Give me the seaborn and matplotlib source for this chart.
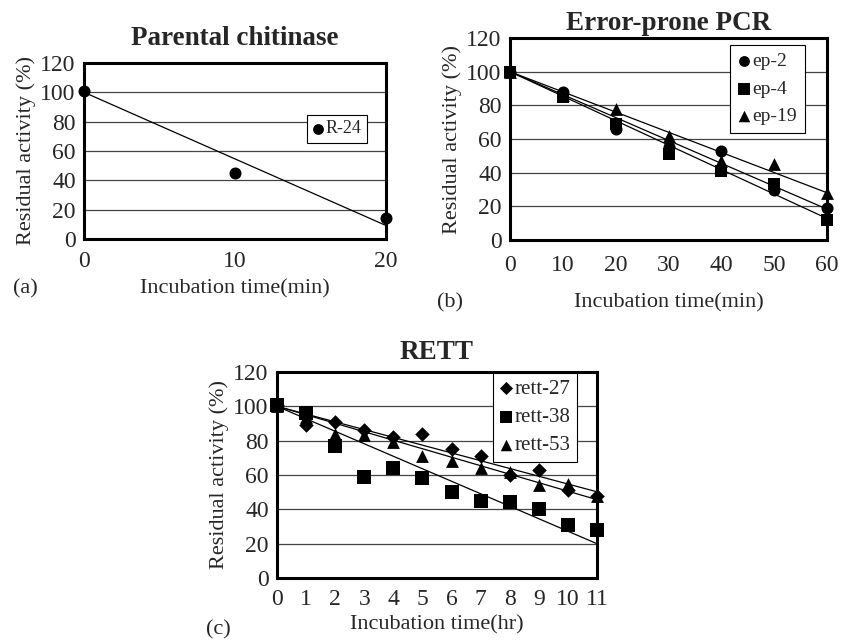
import numpy as np
import pandas as pd
import matplotlib
matplotlib.use("Agg")
import matplotlib.pyplot as plt
import seaborn as sns

# (a) parental chitinase
time_a = [0, 10, 20]
r24 = [101, 45, 14]

# (b) error-prone PCR
time_b = [0, 10, 20, 30, 40, 50, 60]
ep2 = [100, 88, 66, 55, 53, 30, 19]
ep4 = [100, 85, 69, 51, 41, 33, 12]
ep19 = [100, 86, 78, 62, 47, 45, 28]

# (c) RETT
time_c = [0, 1, 2, 3, 4, 5, 6, 7, 8, 9, 10, 11]
rett27 = [101, 89, 91, 86, 82, 84, 75, 71, 60, 63, 51, 48]
rett38 = [101, 96, 77, 59, 64, 58, 50, 45, 44, 40, 31, 28]
rett53 = [100, 94, 84, 83, 79, 71, 68, 64, 62, 54, 55, 48]

sns.set_style("white")
plt.rcParams["font.family"] = ["Liberation Serif", "DejaVu Serif"]

fig = plt.figure(figsize=(8.41, 6.4), dpi=100)


def style_axes(ax, xmax, xticks, title, xlabel, title_pad, tick_pad, xlabel_pad):
    ax.set_xlim(0, xmax)
    ax.set_ylim(0, 120)
    ax.set_yticks(range(0, 121, 20))
    ax.set_xticks(xticks)
    ax.yaxis.grid(True, color="#444444", linewidth=0.9)
    ax.xaxis.grid(False)
    ax.set_axisbelow(True)
    for s in ax.spines.values():
        s.set_visible(True)
        s.set_color("black")
        s.set_linewidth(2.2)
    ax.tick_params(axis="x", direction="in", length=5, width=1, labelsize=17, pad=tick_pad)
    ax.tick_params(axis="y", length=0, labelsize=17, pad=6)
    ax.set_title(title, fontsize=19.5, fontweight="bold", pad=title_pad)
    ax.set_xlabel(xlabel, fontsize=16, labelpad=xlabel_pad)
    ax.set_ylabel("Residual activity (%)", fontsize=16, labelpad=3)


def draw_series(ax, x, y, marker, size, label):
    df = pd.DataFrame({"t": x, "v": y})
    sns.scatterplot(data=df, x="t", y="v", marker=marker, s=size, color="black",
                    edgecolor="black", linewidth=0, clip_on=False, zorder=5,
                    label=label, ax=ax)
    # linear trendline with the intercept fixed at 100 %
    xa = np.asarray(x, float)
    ya = np.asarray(y, float)
    k = np.sum(xa * (ya - 100)) / np.sum(xa * xa)
    xs = np.array([xa[0], xa[-1]])
    ax.plot(xs, 100 + k * xs, color="black", linewidth=0.9, zorder=4)


def legend(ax, anchor, size, spacing, pad):
    ax.legend(loc="upper left", bbox_to_anchor=anchor, borderaxespad=0,
              frameon=True, fancybox=False, edgecolor="black", framealpha=1,
              fontsize=size, handletextpad=0.15, handlelength=0.6,
              borderpad=pad, labelspacing=spacing, markerscale=0.9)
    ax.get_legend().get_frame().set_linewidth(0.8)


# panel (a)
ax_a = fig.add_axes([0.0999, 0.6266, 0.359, 0.275])
draw_series(ax_a, time_a, r24, "o", 75, "R-24")
style_axes(ax_a, 20, [0, 10, 20], "Parental chitinase", "Incubation time(min)", 13, 9, 5)
legend(ax_a, (0.738, 0.705), 13, 0.4, 0.3)

# panel (b)
ax_b = fig.add_axes([0.6064, 0.625, 0.377, 0.3156])
draw_series(ax_b, time_b, ep2, "o", 75, "ep-2")
draw_series(ax_b, time_b, ep4, "s", 85, "ep-4")
draw_series(ax_b, time_b, ep19, "^", 85, "ep-19")
style_axes(ax_b, 60, time_b, "Error-prone PCR", "Incubation time(min)", 6, 10.5, 13)
legend(ax_b, (0.694, 0.965), 14, 0.5, 0.4)

# panel (c)
ax_c = fig.add_axes([0.3294, 0.0969, 0.3805, 0.3219])
draw_series(ax_c, time_c, rett27, "D", 55, "rett-27")
draw_series(ax_c, time_c, rett38, "s", 90, "rett-38")
draw_series(ax_c, time_c, rett53, "^", 85, "rett-53")
style_axes(ax_c, 11, time_c, "RETT", "Incubation time(hr)", 9, 8, 4)
legend(ax_c, (0.675, 0.995), 15, 0.42, 0.3)

fig.text(13 / 841, 1 - 289 / 640, "(a)", fontsize=16, va="center")
fig.text(437 / 841, 1 - 303 / 640, "(b)", fontsize=16, va="center")
fig.text(206 / 841, 1 - 630 / 640, "(c)", fontsize=16, va="center")

fig.savefig("out.png", dpi=100)
